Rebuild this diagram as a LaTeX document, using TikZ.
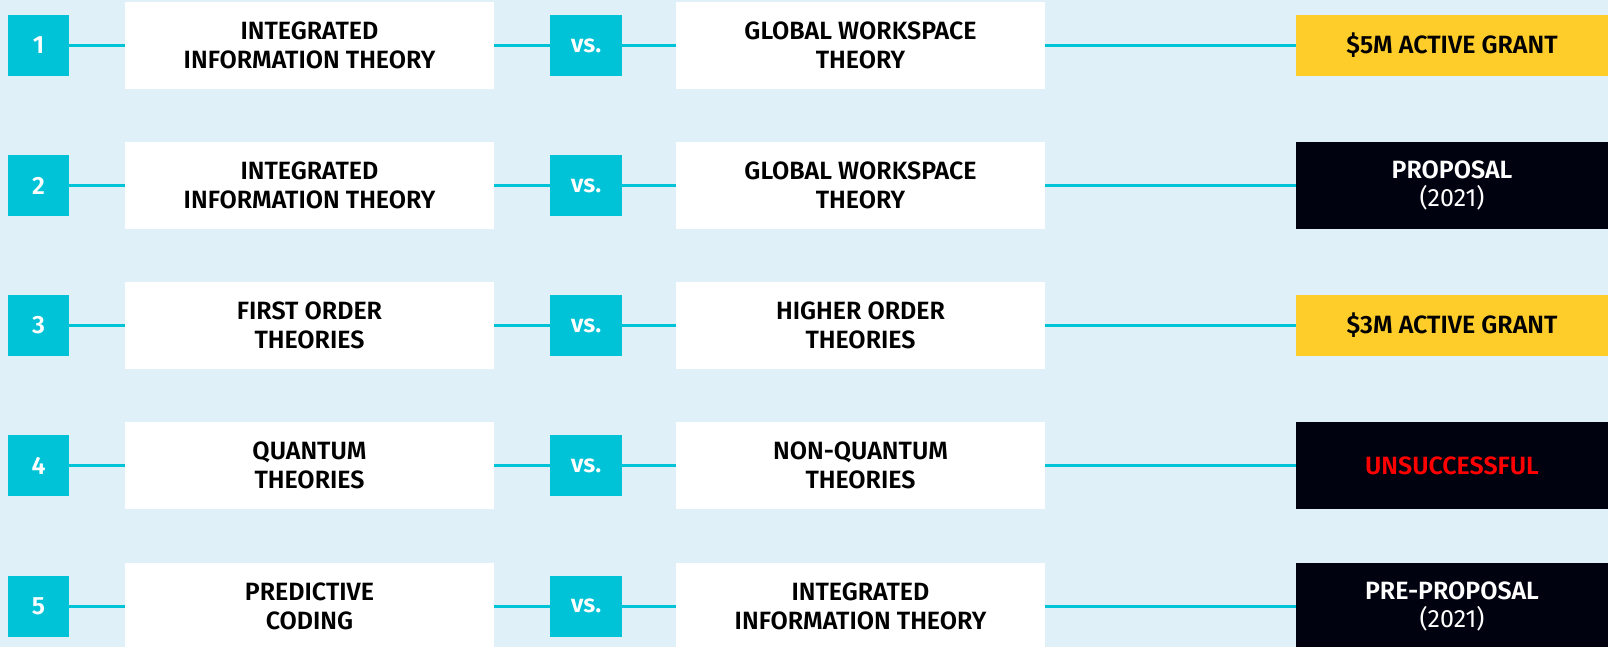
\documentclass[tikz,border=0pt]{standalone}
\usepackage{fontspec}
\setmainfont{Fira Sans}[BoldFont={Fira Sans SemiBold}]
\usepackage{tikz}
\usetikzlibrary{positioning}
\definecolor{paleblue}{HTML}{E0F0F8}
\definecolor{teal}{HTML}{00C3D8}
\definecolor{grant}{HTML}{FFCD29}
\definecolor{ink}{HTML}{00020F}
\definecolor{fail}{HTML}{FF0000}
\tikzset{
    numbox/.style={fill=teal, text=white, minimum width=61pt, minimum height=61pt, inner sep=0pt,
        font=\bfseries\fontsize{25}{29}\selectfont},
    vsbox/.style={numbox, minimum width=72pt},
    theory/.style={fill=white, minimum width=369pt, minimum height=87pt, inner sep=0pt, align=center,
        font=\bfseries\fontsize{25}{29}\selectfont},
    grantbox/.style={fill=grant, minimum width=312pt, minimum height=61pt, inner sep=0pt,
        font=\bfseries\fontsize{25}{29}\selectfont},
    statusbox/.style={fill=ink, text=white, minimum width=312pt, minimum height=87pt, inner sep=0pt,
        align=center, font=\fontsize{25}{28}\selectfont},
    link/.style={draw=teal, line width=3pt}
}

\begin{document}
\begin{tikzpicture}[x=1pt,y=-1pt]
    \fill[paleblue] (0,0) rectangle (1608,647);
    \useasboundingbox (0,0) rectangle (1608,647);
    % row 1
    \node[numbox] at (38.5,45.5) (n1) {1};
    \node[theory] at (309.5,45.5) (a1) {INTEGRATED\\INFORMATION THEORY};
    \node[vsbox] at (586,45.5) (v1) {vs.};
    \node[theory] at (860.5,45.5) (b1) {GLOBAL WORKSPACE\\THEORY};
    \node[grantbox] at (1452,45.5) (s1) {\$5M ACTIVE GRANT};
    % row 2
    \node[numbox] at (38.5,185.5) (n2) {2};
    \node[theory] at (309.5,185.5) (a2) {INTEGRATED\\INFORMATION THEORY};
    \node[vsbox] at (586,185.5) (v2) {vs.};
    \node[theory] at (860.5,185.5) (b2) {GLOBAL WORKSPACE\\THEORY};
    \node[statusbox] at (1452,185.5) (s2) {\textbf{PROPOSAL}\\(2021)};
    % row 3
    \node[numbox] at (38.5,325.5) (n3) {3};
    \node[theory] at (309.5,325.5) (a3) {FIRST ORDER\\THEORIES};
    \node[vsbox] at (586,325.5) (v3) {vs.};
    \node[theory] at (860.5,325.5) (b3) {HIGHER ORDER\\THEORIES};
    \node[grantbox] at (1452,325.5) (s3) {\$3M ACTIVE GRANT};
    % row 4
    \node[numbox] at (38.5,465.5) (n4) {4};
    \node[theory] at (309.5,465.5) (a4) {QUANTUM\\THEORIES};
    \node[vsbox] at (586,465.5) (v4) {vs.};
    \node[theory] at (860.5,465.5) (b4) {NON-QUANTUM\\THEORIES};
    \node[statusbox] at (1452,465.5) (s4) {\textbf{\textcolor{fail}{UNSUCCESSFUL}}};
    % row 5
    \node[numbox] at (38.5,606) (n5) {5};
    \node[theory] at (309.5,606) (a5) {PREDICTIVE\\CODING};
    \node[vsbox] at (586,606) (v5) {vs.};
    \node[theory] at (860.5,606) (b5) {INTEGRATED\\INFORMATION THEORY};
    \node[statusbox] at (1452,606) (s5) {\textbf{PRE-PROPOSAL}\\(2021)};
    \path[link]
    (n1) edge (a1) (a1) edge (v1) (v1) edge (b1) (b1) edge (s1)
    (n2) edge (a2) (a2) edge (v2) (v2) edge (b2) (b2) edge (s2)
    (n3) edge (a3) (a3) edge (v3) (v3) edge (b3) (b3) edge (s3)
    (n4) edge (a4) (a4) edge (v4) (v4) edge (b4) (b4) edge (s4)
    (n5) edge (a5) (a5) edge (v5) (v5) edge (b5) (b5) edge (s5)
    ;
\end{tikzpicture}
\end{document}
